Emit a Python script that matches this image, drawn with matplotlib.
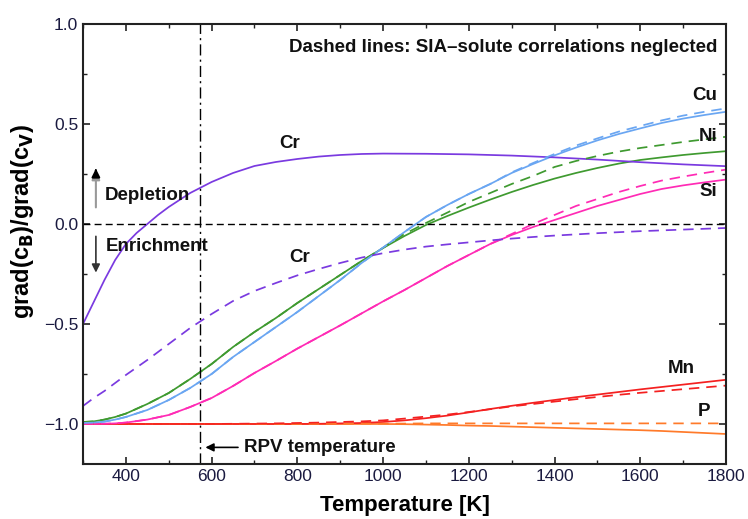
import numpy as np
import matplotlib.pyplot as plt

plt.rcParams['font.family'] = ['Liberation Sans', 'DejaVu Sans']

# temperature grid [K]
T = [300, 325, 350, 375, 400, 450, 500, 550, 600, 650, 700, 750, 800, 850, 900, 950, 1000,
     1050, 1100, 1150, 1200, 1250, 1300, 1350, 1400, 1450, 1500, 1550, 1600, 1650, 1700, 1750, 1800]

# Cr solid needs a finer grid at low T
T_cr = [300, 325, 350, 375, 400, 425, 450, 475, 500, 550, 600, 650, 700, 750, 800, 850, 900,
        950, 1000, 1100, 1200, 1300, 1400, 1500, 1600, 1700, 1800]
cr = [-0.50, -0.39, -0.28, -0.18, -0.10, -0.045, 0.0, 0.045, 0.085, 0.155, 0.21, 0.255, 0.29,
      0.31, 0.325, 0.337, 0.345, 0.35, 0.352, 0.351, 0.348, 0.342, 0.333, 0.322, 0.309,
      0.298, 0.289]

# solid lines (full model)
cu = [-0.995, -0.993, -0.988, -0.978, -0.965, -0.93, -0.88, -0.82, -0.75, -0.665, -0.59,
      -0.515, -0.44, -0.36, -0.28, -0.195, -0.118, -0.04, 0.035, 0.095, 0.15, 0.20, 0.255,
      0.30, 0.343, 0.382, 0.418, 0.45, 0.478, 0.505, 0.527, 0.545, 0.561]
ni = [-0.99, -0.987, -0.978, -0.965, -0.948, -0.90, -0.845, -0.775, -0.70, -0.615, -0.54,
      -0.47, -0.395, -0.325, -0.255, -0.185, -0.12, -0.06, -0.005, 0.04, 0.082, 0.122, 0.16,
      0.195, 0.227, 0.255, 0.28, 0.302, 0.32, 0.333, 0.345, 0.355, 0.364]
si = [-1.0, -1.0, -0.999, -0.997, -0.993, -0.978, -0.955, -0.915, -0.87, -0.81, -0.745,
      -0.685, -0.623, -0.565, -0.507, -0.447, -0.387, -0.33, -0.27, -0.21, -0.155, -0.10,
      -0.055, -0.015, 0.02, 0.055, 0.09, 0.12, 0.15, 0.175, 0.193, 0.208, 0.222]
mn = [-1.0, -1.0, -1.0, -1.0, -1.0, -1.0, -1.0, -1.0, -1.0, -1.0, -1.0, -1.0, -1.0,
      -0.999, -0.997, -0.995, -0.99, -0.982, -0.971, -0.958, -0.942, -0.925, -0.909, -0.894,
      -0.88, -0.866, -0.853, -0.84, -0.827, -0.815, -0.803, -0.791, -0.779]
p = [-1.0, -1.0, -1.0, -1.0, -1.0, -1.0, -1.0, -1.0, -1.0, -1.0, -1.0, -1.0, -1.0,
     -1.0, -1.0, -1.0, -1.0, -1.001, -1.003, -1.005, -1.008, -1.01, -1.013, -1.016, -1.019,
     -1.022, -1.025, -1.028, -1.031, -1.035, -1.04, -1.045, -1.05]

# dashed lines (SIA-solute correlations neglected)
cr_d = [-0.91, -0.87, -0.835, -0.795, -0.755, -0.68, -0.60, -0.52, -0.45, -0.385, -0.335,
        -0.295, -0.257, -0.225, -0.195, -0.168, -0.146, -0.128, -0.113, -0.102, -0.092,
        -0.082, -0.073, -0.065, -0.058, -0.052, -0.046, -0.041, -0.036, -0.032, -0.028,
        -0.024, -0.02]
cu_d = [-0.995, -0.993, -0.988, -0.978, -0.965, -0.93, -0.88, -0.82, -0.75, -0.665, -0.59,
        -0.515, -0.44, -0.36, -0.28, -0.195, -0.118, -0.04, 0.035, 0.095, 0.15, 0.20, 0.258,
        0.305, 0.35, 0.392, 0.428, 0.462, 0.49, 0.518, 0.542, 0.561, 0.578]
ni_d = [-0.99, -0.987, -0.978, -0.965, -0.948, -0.90, -0.845, -0.775, -0.70, -0.615, -0.54,
        -0.47, -0.395, -0.325, -0.255, -0.185, -0.12, -0.05, 0.005, 0.057, 0.11, 0.155, 0.20,
        0.24, 0.285, 0.315, 0.34, 0.362, 0.38, 0.395, 0.41, 0.423, 0.436]
si_d = [-1.0, -1.0, -0.999, -0.997, -0.993, -0.978, -0.955, -0.915, -0.87, -0.81, -0.745,
        -0.685, -0.623, -0.565, -0.507, -0.447, -0.387, -0.33, -0.27, -0.21, -0.155, -0.10,
        -0.05, 0.0, 0.045, 0.09, 0.125, 0.16, 0.19, 0.217, 0.237, 0.255, 0.272]
mn_d = [-1.0, -1.0, -1.0, -1.0, -1.0, -1.0, -1.0, -1.0, -1.0, -0.999, -0.998, -0.997, -0.995,
        -0.993, -0.99, -0.987, -0.982, -0.973, -0.963, -0.953, -0.94, -0.926, -0.912, -0.90,
        -0.888, -0.876, -0.865, -0.854, -0.844, -0.835, -0.826, -0.817, -0.808]
p_d = [-1.0, -1.0, -1.0, -1.0, -1.0, -1.0, -1.0, -1.0, -1.0, -1.0, -1.0, -1.0, -1.0,
       -0.999, -0.999, -0.998, -0.998, -0.998, -0.997, -0.997, -0.997, -0.997, -0.997, -0.997,
       -0.997, -0.997, -0.997, -0.997, -0.997, -0.997, -0.997, -0.997, -0.997]

T_rpv = 573

fig = plt.figure(figsize=(7.48, 5.19), dpi=100)
ax = fig.add_axes([0.111, 0.106, 0.8596, 0.8478])

c_cr = '#7a3ae0'
c_cu = '#6aa6f2'
c_ni = '#3f9a30'
c_si = '#ff2bb5'
c_mn = '#f42020'
c_p = '#ff7a2a'

lw = 1.25
for y, c in [(p, c_p), (mn, c_mn), (si, c_si), (ni, c_ni), (cu, c_cu)]:
    ax.plot(T, y, color=c, lw=lw)
ax.plot(T_cr, cr, color=c_cr, lw=lw)
for y, c in [(p_d, c_p), (mn_d, c_mn), (si_d, c_si), (ni_d, c_ni), (cu_d, c_cu), (cr_d, c_cr)]:
    ax.plot(T, y, color=c, lw=lw, ls=(0, (6, 4)))

ax.axhline(0, color='black', lw=1.0, ls=(0, (5, 3)))
ax.axvline(T_rpv, color='black', lw=1.0, ls=(0, (8, 3, 1.5, 3)))

ax.set_xlim(300, 1800)
ax.set_ylim(-1.2, 1.0)
ax.set_xticks([400, 600, 800, 1000, 1200, 1400, 1600, 1800])
ax.set_xticks(np.arange(300, 1801, 100), minor=True)
ax.set_yticks([-1.0, -0.5, 0.0, 0.5, 1.0])
ax.set_yticklabels(['\u22121.0', '\u22120.5', '0.0', '0.5', '1.0'])
ax.set_yticks(np.arange(-1.0, 1.01, 0.25), minor=True)
ax.tick_params(which='both', direction='in', top=True, right=True, labelsize=12.5,
               colors='#222222', labelcolor='#1a1a40')
ax.tick_params(which='major', length=5, width=1.2)
ax.tick_params(which='minor', length=3, width=1.0)
for s in ax.spines.values():
    s.set_linewidth(1.5)
    s.set_color('#222222')

ax.set_xlabel('Temperature [K]', fontsize=16, fontweight='bold', labelpad=8)
ax.set_ylabel(r'grad(c$_\mathbf{B}$)/grad(c$_\mathbf{V}$)', fontsize=17, fontweight='bold')
ax.yaxis.set_label_coords(-0.073, 0.552)

tk = dict(fontsize=13.5, fontweight='bold', color='#111111')
ax.text(1779, 0.88, 'Dashed lines: SIA\u2013solute correlations neglected', ha='right', va='center', **tk)
ax.text(783, 0.40, 'Cr', ha='center', va='center', **tk)
ax.text(806, -0.17, 'Cr', ha='center', va='center', **tk)
ax.text(1779, 0.644, 'Cu', ha='right', va='center', **tk)
ax.text(1779, 0.436, 'Ni', ha='right', va='center', **tk)
ax.text(1779, 0.16, 'Si', ha='right', va='center', **tk)
ax.text(1727, -0.722, 'Mn', ha='right', va='center', **tk)
ax.text(1764, -0.936, 'P', ha='right', va='center', **tk)
ax.text(351, 0.144, 'Depletion', ha='left', va='center', **tk)
ax.text(353, -0.115, 'Enrichment', ha='left', va='center', **tk)
ax.text(676, -1.117, 'RPV temperature', ha='left', va='center', **tk)

ax.annotate('', xy=(330, 0.277), xytext=(330, 0.069),
            arrowprops=dict(arrowstyle='-|>', color='#999999', lw=1.5, mutation_scale=12))
ax.annotate('', xy=(330, 0.277), xytext=(330, 0.25),
            arrowprops=dict(arrowstyle='-|>', color='black', lw=1.5, mutation_scale=12))
ax.annotate('', xy=(330, -0.257), xytext=(330, -0.048),
            arrowprops=dict(arrowstyle='-|>', color='#333333', lw=1.2, mutation_scale=12))
ax.annotate('', xy=(T_rpv + 6, -1.117), xytext=(668, -1.117),
            arrowprops=dict(arrowstyle='-|>', color='black', lw=1.2, mutation_scale=12))

fig.savefig('out.png', dpi=100)
